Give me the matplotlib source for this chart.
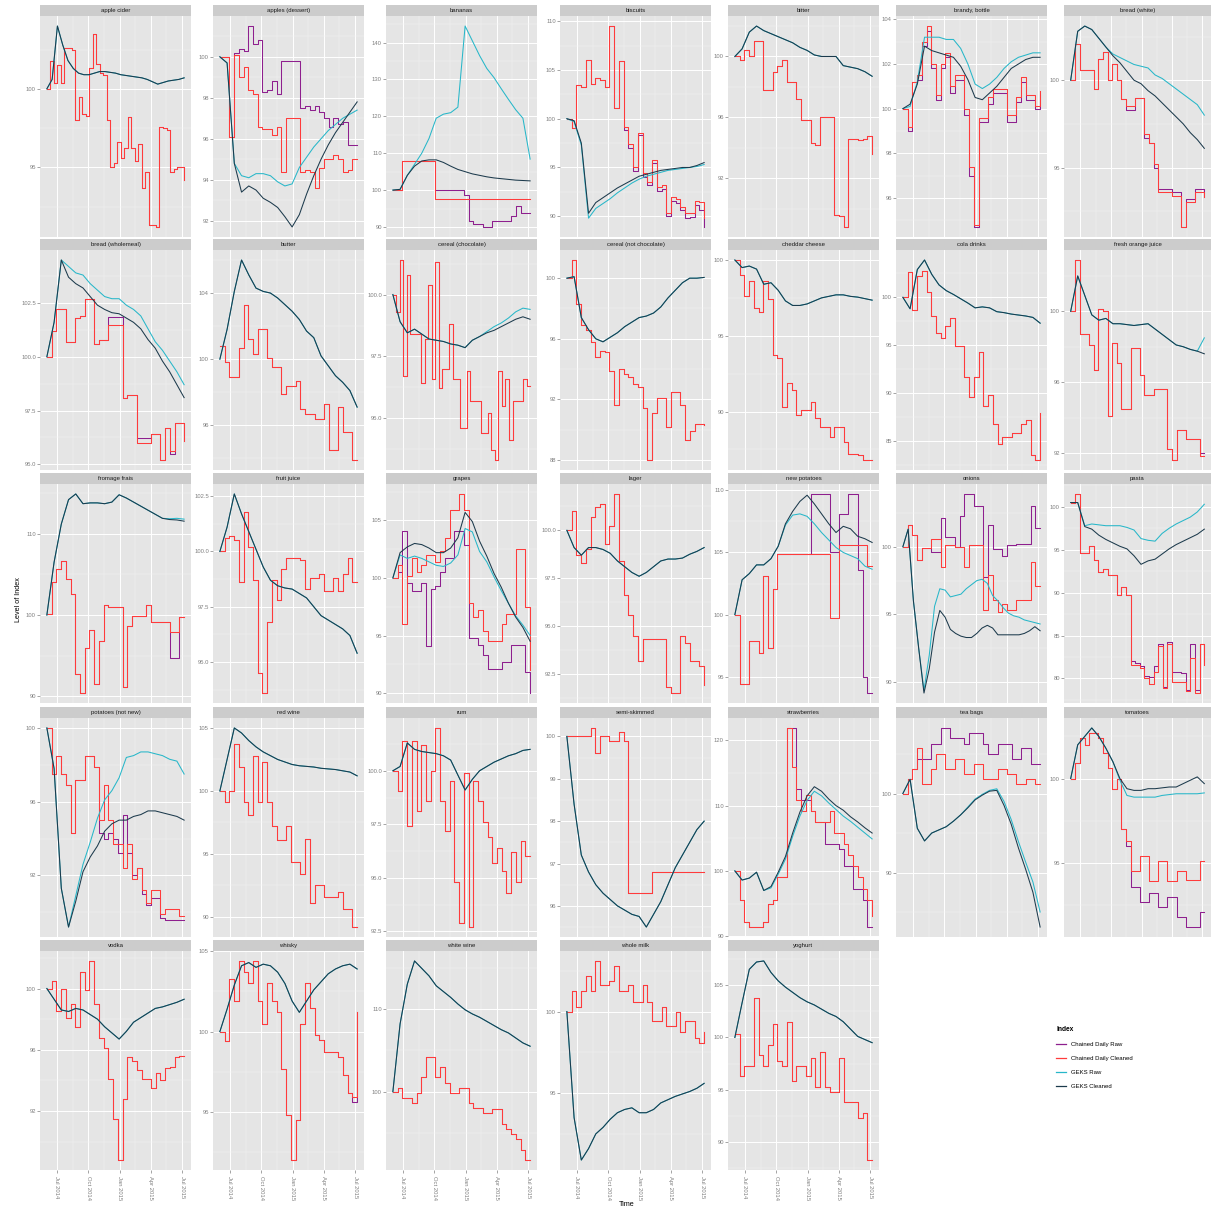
import numpy as np
import pandas as pd
import matplotlib
matplotlib.use("Agg")
import matplotlib.pyplot as plt
import matplotlib.dates as mdates
from matplotlib.ticker import MultipleLocator, FormatStrFormatter
from matplotlib.lines import Line2D

plt.rcParams["font.family"] = ["Liberation Sans", "DejaVu Sans"]

products = [
    "apple cider", "apples (dessert)", "bananas", "biscuits", "bitter", "brandy, bottle", "bread (white)",
    "bread (wholemeal)", "butter", "cereal (chocolate)", "cereal (not chocolate)", "cheddar cheese", "cola drinks", "fresh orange juice",
    "fromage frais", "fruit juice", "grapes", "lager", "new potatoes", "onions", "pasta",
    "potatoes (not new)", "red wine", "rum", "semi-skimmed", "strawberries", "tea bags", "tomatoes",
    "vodka", "whisky", "white wine", "whole milk", "yoghurt",
]
y_step = [5, 2, 10, 5, 4, 2, 5,
          2.5, 4, 2.5, 4, 5, 5, 4,
          10, 2.5, 5, 2.5, 5, 5, 5,
          4, 5, 2.5, 1, 10, 10, 5,
          4, 5, 10, 5, 5]

# chained daily index, cleaned data
chained_clean = {
    "apple cider": [100.0, 101.8, 100.4, 101.5, 100.4, 102.6, 102.6, 102.5, 98.0, 99.5, 98.4, 98.3, 101.3, 103.5, 101.6, 101.0, 100.9, 98.0, 95.0, 95.3,
                    96.6, 95.6, 96.2, 98.2, 96.2, 95.4, 96.5, 93.7, 94.7, 91.3, 91.3, 91.2, 97.6, 97.5, 97.4, 94.7, 94.9, 95.0, 95.0, 94.2],
    "apples (dessert)": [100.0, 100.0, 96.1, 100.1, 99.0, 99.5, 98.4, 98.2, 96.6, 96.5, 96.5, 96.2, 96.6, 94.4, 97.0, 97.0, 97.0, 94.4, 94.5, 94.4,
                         93.6, 94.6, 95.0, 95.0, 95.2, 95.0, 94.4, 94.5, 95.0, 95.0],
    "bananas": [100, 100, 108, 108, 108, 108, 108, 108, 108, 97.5, 97.5, 97.5, 97.5, 97.5, 97.5, 97.5, 97.5, 97.5, 97.5, 97.5,
                97.5, 97.5, 97.5, 97.5, 97.5, 97.5, 97.5, 97.5, 97.5, 97.5],
    "biscuits": [100.0, 99.0, 103.5, 103.2, 106.0, 103.6, 104.2, 104.0, 103.2, 109.5, 101.1, 105.9, 99.1, 97.4, 95.0, 98.5, 94.4, 93.5, 95.8, 93.0,
                 93.2, 90.3, 92.0, 91.8, 90.9, 90.3, 90.3, 91.6, 91.5, 89.8],
    "bitter": [100.0, 99.8, 100.4, 100.0, 101.0, 101.0, 97.8, 97.8, 99.0, 99.4, 99.8, 98.3, 98.3, 97.2, 95.8, 95.8, 94.3, 94.2, 96.0, 96.0,
               96.0, 89.6, 89.5, 88.8, 94.6, 94.6, 94.5, 94.6, 94.8, 93.6],
    "brandy, bottle": [100.0, 99.2, 101.2, 101.5, 103.0, 103.7, 102.0, 100.6, 102.0, 102.5, 101.0, 101.5, 101.5, 100.0, 97.4, 94.8, 99.6, 99.6, 100.5, 100.9,
                       100.9, 100.9, 99.7, 99.7, 100.5, 101.4, 100.6, 100.6, 100.1, 100.8],
    "bread (white)": [100.0, 102.1, 100.6, 100.6, 100.6, 99.5, 101.2, 101.6, 100.0, 100.9, 100.0, 98.9, 98.5, 98.5, 99.0, 99.0, 96.9, 96.4, 95.2, 93.6,
                      93.6, 93.6, 93.4, 93.4, 91.6, 93.0, 93.0, 93.6, 93.6, 93.3],
    "bread (wholemeal)": [100.0, 101.2, 102.2, 102.2, 100.7, 100.7, 101.8, 101.9, 102.7, 102.7, 100.6, 100.8, 100.8, 101.5, 101.5, 101.5, 98.1, 98.2, 98.2, 96.0,
                          96.0, 96.0, 96.4, 96.4, 95.2, 96.7, 95.6, 96.9, 96.9, 96.1],
    "butter": [100.8, 99.8, 98.9, 98.9, 100.7, 103.3, 101.2, 100.3, 101.8, 101.8, 100.1, 99.5, 99.5, 97.9, 98.4, 98.4, 98.7, 97.0, 96.7, 96.7,
               96.4, 96.4, 97.3, 94.5, 94.5, 97.1, 95.6, 95.6, 93.9, 93.9],
    "cereal (chocolate)": [100.0, 99.3, 101.4, 96.7, 100.8, 98.4, 98.4, 98.4, 96.4, 98.2, 100.4, 96.6, 101.3, 96.2, 97.0, 97.0, 98.8, 96.6, 96.6, 94.6,
                           94.6, 96.9, 95.7, 95.7, 95.7, 94.4, 94.4, 95.2, 93.7, 93.3, 96.9, 95.5, 96.6, 94.1, 95.7, 95.7, 95.7, 96.6, 96.3, 96.3],
    "cereal (not chocolate)": [100.0, 101.2, 98.3, 96.9, 96.6, 95.8, 94.8, 95.2, 95.1, 93.9, 91.6, 94.0, 93.7, 93.5, 93.0, 92.8, 91.4, 88.0, 91.1, 92.1,
                               92.1, 90.2, 92.5, 92.5, 91.6, 89.3, 89.9, 90.4, 90.4, 90.3],
    "cheddar cheese": [100.0, 99.0, 97.6, 98.6, 96.8, 96.6, 98.6, 97.4, 93.7, 93.5, 90.3, 91.9, 91.4, 89.8, 90.1, 90.1, 90.6, 89.6, 89.0, 89.0,
                       88.3, 89.0, 89.0, 88.0, 87.2, 87.2, 87.1, 86.8, 86.8, 86.8],
    "cola drinks": [100.0, 102.6, 98.7, 102.2, 102.7, 100.6, 98.0, 96.3, 95.7, 97.0, 97.8, 94.9, 94.9, 91.7, 89.6, 91.7, 94.3, 88.6, 89.8, 86.8,
                    84.7, 85.4, 85.4, 85.8, 85.8, 86.8, 87.2, 83.5, 83.0, 87.9],
    "fresh orange juice": [100.0, 102.9, 98.7, 98.7, 98.1, 96.7, 100.15, 100.0, 94.1, 98.2, 97.1, 94.5, 94.5, 97.9, 97.9, 96.4, 95.3, 95.3, 95.6, 95.6,
                           95.6, 92.2, 91.6, 93.3, 93.3, 92.8, 92.8, 92.8, 91.8, 91.8],
    "fromage frais": [100.1, 104.1, 105.7, 106.6, 104.4, 102.6, 92.8, 90.4, 95.9, 98.1, 91.5, 96.8, 101.2, 101.0, 101.0, 101.0, 91.2, 98.6, 99.9, 99.9,
                      99.9, 101.2, 99.2, 99.2, 99.2, 99.2, 97.9, 97.9, 99.7, 99.7],
    "fruit juice": [100.0, 100.6, 100.7, 100.5, 98.6, 101.8, 100.2, 98.7, 94.5, 93.6, 96.8, 98.7, 97.8, 99.2, 99.7, 99.7, 99.7, 99.6, 98.3, 98.8,
                    98.8, 99.0, 98.2, 98.2, 98.8, 98.2, 99.0, 99.7, 98.6, 98.6],
    "grapes": [100.0, 101.1, 96.0, 100.2, 101.7, 100.5, 101.1, 102.0, 102.0, 101.4, 102.3, 103.5, 105.9, 105.9, 107.3, 105.9, 97.8, 96.6, 97.2, 95.4,
               94.5, 94.5, 94.5, 96.0, 96.9, 96.9, 102.5, 102.5, 97.5, 92.0],
    "lager": [100.0, 101.0, 98.7, 98.3, 99.0, 100.7, 101.2, 101.4, 99.3, 100.2, 101.9, 98.4, 96.6, 95.6, 94.5, 93.2, 94.3, 94.3, 94.3, 94.3,
              94.3, 91.8, 91.5, 91.5, 94.5, 94.1, 93.2, 93.2, 92.9, 91.9],
    "new potatoes": [100.0, 94.4, 94.4, 97.9, 97.9, 96.9, 103.1, 97.3, 102.1, 104.85, 104.85, 104.85, 104.85, 104.85, 104.85, 104.85, 104.85, 104.85, 104.85, 104.85,
                     99.7, 99.7, 105.6, 105.6, 105.6, 105.6, 105.6, 105.6, 103.9, 103.9],
    "onions": [100.0, 101.6, 100.85, 99.0, 99.9, 99.9, 100.6, 100.6, 98.5, 100.1, 100.1, 99.95, 99.95, 98.5, 100.1, 100.1, 100.1, 95.3, 97.9, 96.1,
               95.2, 95.8, 95.3, 95.3, 96.1, 96.1, 96.1, 98.9, 97.1, 97.1],
    "pasta": [100.5, 101.5, 94.6, 94.6, 95.4, 93.8, 92.4, 92.8, 92.0, 92.0, 89.7, 90.7, 89.7, 81.6, 81.6, 81.2, 80.0, 79.3, 80.8, 83.8,
              78.9, 84.0, 79.6, 79.6, 79.6, 78.5, 82.4, 78.3, 84.0, 81.6],
    "potatoes (not new)": [100.0, 97.5, 98.5, 97.5, 96.9, 94.3, 97.2, 97.2, 98.5, 98.5, 97.9, 95.0, 96.9, 95.0, 93.7, 93.7, 92.4, 93.7, 91.8, 92.4,
                           91.2, 90.5, 91.2, 91.2, 89.9, 90.2, 90.2, 90.2, 89.8, 89.8],
    "red wine": [100.0, 99.1, 100.0, 103.7, 101.9, 99.1, 98.1, 102.8, 99.1, 102.3, 99.1, 97.2, 96.1, 96.1, 97.2, 94.4, 94.4, 93.4, 96.2, 91.1,
                 92.5, 92.5, 91.6, 91.6, 91.6, 92.0, 90.6, 90.6, 89.2, 89.2],
    "rum": [100.0, 99.05, 101.4, 97.4, 101.4, 98.1, 101.2, 98.6, 100.0, 102.0, 98.6, 97.2, 99.5, 94.8, 92.9, 99.9, 92.7, 99.5, 98.6, 97.6,
            96.9, 95.7, 96.4, 95.3, 94.3, 96.2, 94.8, 96.7, 96.0, 96.0],
    "semi-skimmed": [100.0, 100.0, 100.0, 100.0, 100.0, 100.2, 99.6, 100.0, 100.0, 99.9, 99.9, 100.1, 99.9, 96.3, 96.3, 96.3, 96.3, 96.3, 96.8, 96.8,
                     96.8, 96.8, 96.8, 96.8, 96.8, 96.8, 96.8, 96.8, 96.8, 96.8],
    "strawberries": [100.0, 95.6, 92.2, 91.4, 91.4, 91.4, 92.2, 95.0, 95.6, 99.0, 99.0, 121.9, 115.9, 110.8, 109.2, 111.7, 109.2, 107.5, 107.5, 107.5,
                     109.2, 105.8, 105.8, 104.1, 102.4, 100.7, 99.0, 97.3, 95.6, 93.1],
    "tea bags": [100.0, 101.8, 103.1, 105.7, 101.2, 101.2, 103.1, 105.0, 105.0, 103.1, 103.1, 104.4, 104.4, 102.5, 102.5, 103.7, 103.7, 101.8, 101.8, 101.8,
                 103.1, 103.1, 102.5, 102.5, 101.2, 101.2, 101.8, 101.8, 101.2, 101.2],
    "tomatoes": [100.0, 100.9, 102.4, 102.0, 102.7, 102.7, 102.4, 101.5, 100.6, 99.4, 100.0, 97.0, 96.3, 94.5, 94.5, 95.4, 95.4, 93.9, 93.9, 95.1,
                 95.1, 93.9, 93.9, 94.5, 94.5, 94.0, 94.0, 94.0, 95.1, 95.1],
    "vodka": [100.0, 100.5, 98.5, 100.0, 98.1, 99.0, 97.5, 101.1, 99.9, 101.8, 99.0, 96.8, 96.1, 94.1, 91.5, 88.8, 92.8, 95.5, 95.3, 94.7,
              94.1, 94.1, 93.5, 94.5, 94.0, 94.8, 94.9, 95.5, 95.6, 95.6],
    "whisky": [100.0, 99.4, 103.3, 101.9, 104.4, 103.7, 103.0, 104.4, 101.9, 100.5, 103.0, 101.9, 101.2, 97.7, 94.8, 92.0, 94.5, 100.5, 103.0, 101.5,
               99.8, 99.5, 98.7, 98.7, 98.7, 98.4, 97.3, 96.2, 95.9, 101.2],
    "white wine": [100.0, 100.5, 99.25, 99.25, 98.6, 99.9, 101.75, 104.25, 104.25, 101.75, 103.0, 101.1, 99.9, 99.9, 100.5, 100.5, 98.6, 98.0, 98.0, 97.4,
                   97.4, 97.9, 97.9, 96.1, 95.5, 94.9, 94.25, 93.0, 91.75, 91.75],
    "whole milk": [100.0, 101.25, 100.3, 101.25, 102.2, 101.25, 103.1, 101.6, 101.6, 101.9, 102.8, 101.25, 101.25, 101.6, 100.6, 100.6, 101.6, 100.6, 99.4, 99.4,
                   100.3, 99.1, 99.1, 100.0, 98.75, 99.4, 99.4, 98.4, 98.1, 98.75],
    "yoghurt": [100.3, 96.3, 97.3, 97.3, 103.8, 98.3, 97.3, 99.3, 101.3, 97.8, 97.3, 101.5, 95.8, 97.3, 97.3, 96.3, 98.0, 95.3, 98.6, 95.3,
                94.8, 94.8, 98.0, 93.8, 93.8, 93.8, 92.3, 92.8, 88.3, 88.3],
}

# chained daily index, raw data (only where it differs from the cleaned one)
chained_raw = {
    "apples (dessert)": [100.0, 100.0, 96.1, 100.2, 100.4, 100.3, 101.5, 100.6, 100.8, 98.3, 98.4, 98.8, 98.2, 99.8, 99.8, 99.8, 99.8, 97.5, 97.6, 97.4,
                         97.6, 97.3, 97.0, 96.6, 97.0, 96.7, 96.8, 95.7, 95.7, 95.7],
    "bananas": [100, 100, 108, 108, 108, 108, 108, 108, 108, 100, 100, 100, 100, 100, 100, 98.7, 91.5, 90.7, 90.7, 90.0,
                90.0, 91.5, 91.5, 91.5, 91.5, 93.0, 95.6, 93.9, 93.9, 93.9],
    "biscuits": [100.0, 99.0, 103.5, 103.2, 106.0, 103.6, 104.2, 104.0, 103.2, 109.5, 101.1, 105.9, 98.8, 97.0, 94.6, 98.3, 94.0, 93.2, 95.5, 92.6,
                 92.8, 90.0, 91.6, 91.4, 90.6, 89.8, 89.9, 91.2, 90.6, 88.9],
    "brandy, bottle": [100.0, 99.0, 101.2, 101.3, 102.8, 103.5, 101.8, 100.4, 101.8, 102.3, 100.7, 101.3, 101.3, 99.7, 97.0, 94.7, 99.4, 99.4, 100.2, 100.7,
                       100.7, 100.7, 99.4, 99.4, 100.3, 101.2, 100.4, 100.4, 100.0, 100.6],
    "bread (white)": [100.0, 102.1, 100.6, 100.6, 100.6, 99.5, 101.2, 101.6, 100.0, 100.9, 100.0, 98.9, 98.3, 98.3, 99.0, 99.0, 96.7, 96.4, 95.0, 93.8,
                      93.8, 93.8, 93.6, 93.6, 91.6, 93.2, 93.2, 93.8, 93.8, 93.3],
    "bread (wholemeal)": [100.0, 101.2, 102.2, 102.2, 100.7, 100.7, 101.8, 101.9, 102.7, 102.7, 100.6, 100.8, 100.8, 101.85, 101.85, 101.85, 98.1, 98.2, 98.2, 96.2,
                          96.2, 96.2, 96.4, 96.4, 95.2, 96.7, 95.5, 96.9, 96.9, 96.1],
    "fresh orange juice": [100.0, 102.9, 98.7, 98.7, 98.1, 96.7, 100.15, 100.0, 94.1, 98.2, 97.1, 94.5, 94.5, 97.9, 97.9, 96.4, 95.3, 95.3, 95.6, 95.6,
                           95.6, 92.2, 91.6, 93.3, 93.3, 92.8, 92.8, 92.8, 92.0, 92.0],
    "fromage frais": [100.1, 104.1, 105.7, 106.6, 104.4, 102.6, 92.8, 90.4, 95.9, 98.1, 91.5, 96.8, 101.2, 101.0, 101.0, 101.0, 91.2, 98.6, 99.9, 99.9,
                      99.9, 101.2, 99.2, 99.2, 99.2, 99.2, 94.7, 94.7, 99.7, 99.7],
    "grapes": [100.0, 100.5, 104.1, 99.6, 98.9, 98.9, 99.6, 94.1, 99.0, 99.3, 100.5, 101.7, 101.7, 104.1, 104.1, 102.9, 94.8, 94.8, 94.2, 93.3,
               92.1, 92.1, 92.1, 92.7, 92.7, 94.2, 94.2, 94.2, 91.8, 90.0],
    "new potatoes": [100.0, 94.4, 94.4, 97.9, 97.9, 96.9, 103.1, 97.3, 102.1, 104.85, 104.85, 104.85, 104.85, 104.85, 104.85, 104.85, 109.7, 109.7, 109.7, 109.7,
                     105.0, 105.0, 108.1, 108.1, 109.7, 109.7, 103.6, 95.0, 93.7, 93.7],
    "onions": [100.0, 101.6, 100.85, 99.0, 99.9, 99.9, 99.6, 99.6, 102.1, 100.7, 100.7, 100.0, 102.3, 103.9, 103.9, 103.0, 103.0, 97.8, 101.6, 99.8,
               99.8, 99.3, 100.1, 100.1, 100.2, 100.2, 100.2, 103.0, 101.4, 101.4],
    "pasta": [100.5, 101.5, 94.6, 94.6, 95.4, 93.8, 92.4, 92.8, 92.0, 92.0, 89.7, 90.7, 89.7, 82.0, 81.8, 81.5, 80.3, 80.2, 81.5, 84.0,
              79.0, 84.2, 80.8, 80.8, 80.6, 78.6, 84.0, 78.6, 84.0, 82.0],
    "potatoes (not new)": [100.0, 97.5, 98.5, 97.5, 96.9, 94.3, 97.2, 97.2, 98.5, 98.5, 97.9, 94.3, 94.0, 94.3, 94.0, 93.2, 95.3, 93.2, 92.0, 92.4,
                           91.0, 90.4, 90.8, 90.8, 89.7, 89.6, 89.6, 89.6, 89.6, 89.6],
    "strawberries": [100.0, 95.6, 92.2, 91.4, 91.4, 91.4, 92.2, 95.0, 95.6, 99.0, 99.0, 121.9, 121.9, 112.5, 110.8, 110.8, 109.2, 107.5, 107.5, 104.1,
                     104.1, 104.1, 103.3, 100.7, 100.7, 97.3, 97.3, 95.6, 91.4, 91.4],
    "tea bags": [100.0, 101.8, 103.1, 104.4, 104.4, 104.4, 106.3, 106.3, 108.3, 108.3, 107.0, 107.0, 107.0, 106.3, 107.6, 107.6, 107.6, 106.3, 105.0, 105.0,
                 106.3, 106.3, 106.3, 104.4, 104.4, 105.7, 105.7, 103.7, 103.7, 103.7],
    "tomatoes": [100.0, 100.9, 102.4, 102.0, 102.7, 102.7, 102.4, 101.5, 100.6, 99.4, 100.0, 97.0, 96.0, 93.6, 93.6, 92.7, 92.7, 93.2, 93.2, 92.4,
                 92.4, 93.0, 93.0, 91.8, 91.8, 91.2, 91.2, 91.2, 92.1, 92.1],
    "whisky": [100.0, 99.4, 103.3, 101.9, 104.4, 103.7, 103.0, 104.4, 101.9, 100.5, 103.0, 101.9, 101.2, 97.7, 94.8, 92.0, 94.5, 100.5, 103.0, 101.5,
               99.8, 99.5, 98.7, 98.7, 98.7, 98.4, 97.3, 96.2, 95.6, 101.2],
}

# GEKS index, cleaned data
geks_clean = {
    "apple cider": [100.0, 100.6, 104.0, 102.8, 101.8, 101.3, 101.0, 100.9, 100.9, 101.0, 101.1, 101.1, 101.05, 101.0, 100.9, 100.85, 100.8, 100.75, 100.7, 100.6,
                    100.45, 100.3, 100.4, 100.5, 100.55, 100.6, 100.7],
    "apples (dessert)": [100.0, 99.7, 94.8, 93.4, 93.7, 93.5, 93.1, 92.9, 92.65, 92.2, 91.7, 92.3, 93.3, 94.2, 95.0, 95.7, 96.3, 96.8, 97.3, 97.8],
    "bananas": [100.0, 100.2, 104.0, 106.5, 107.9, 108.2, 108.2, 107.5, 106.5, 105.6, 105.0, 104.4, 104.0, 103.6, 103.3, 103.1, 102.9, 102.7, 102.6, 102.5],
    "biscuits": [100.0, 99.8, 97.5, 90.3, 91.4, 91.9, 92.4, 92.9, 93.3, 93.7, 94.1, 94.3, 94.5, 94.7, 94.8, 94.9, 95.0, 95.0, 95.2, 95.5],
    "bitter": [100.0, 100.5, 101.6, 102.0, 101.7, 101.5, 101.3, 101.1, 100.9, 100.6, 100.4, 100.1, 100.0, 100.0, 100.0, 99.4, 99.3, 99.2, 99.0, 98.7],
    "brandy, bottle": [100.0, 100.2, 101.1, 102.8, 102.6, 102.5, 102.4, 102.3, 101.9, 101.3, 100.5, 100.4, 100.7, 101.0, 101.4, 101.8, 102.0, 102.2, 102.3, 102.3],
    "bread (white)": [100.0, 102.8, 103.1, 102.9, 102.4, 101.9, 101.4, 101.0, 100.5, 100.0, 99.8, 99.4, 99.1, 98.7, 98.3, 97.9, 97.5, 97.0, 96.6, 96.1],
    "bread (wholemeal)": [100.0, 101.6, 104.5, 103.7, 103.4, 103.2, 102.8, 102.4, 102.2, 102.05, 102.0, 101.8, 101.6, 101.3, 100.8, 100.4, 99.8, 99.3, 98.7, 98.1],
    "butter": [100.0, 101.8, 104.1, 106.0, 105.1, 104.3, 104.1, 104.0, 103.7, 103.3, 102.9, 102.4, 101.7, 101.3, 100.2, 99.6, 99.0, 98.6, 98.1, 97.1],
    "cereal (chocolate)": [100.0, 98.9, 98.45, 98.6, 98.4, 98.2, 98.15, 98.1, 98.0, 97.95, 97.85, 98.15, 98.3, 98.45, 98.55, 98.7, 98.85, 99.0, 99.1, 99.0],
    "cereal (not chocolate)": [100.0, 100.1, 97.4, 96.6, 96.0, 95.8, 96.1, 96.4, 96.8, 97.1, 97.4, 97.5, 97.7, 98.1, 98.7, 99.2, 99.7, 100.0, 100.0, 100.05],
    "cheddar cheese": [100.0, 99.5, 99.6, 99.4, 98.4, 98.5, 98.0, 97.3, 97.0, 97.0, 97.1, 97.3, 97.5, 97.6, 97.7, 97.7, 97.6, 97.55, 97.45, 97.35],
    "cola drinks": [100.0, 98.8, 102.9, 103.9, 102.4, 101.3, 100.7, 100.3, 99.85, 99.4, 98.9, 99.0, 98.9, 98.5, 98.4, 98.25, 98.15, 98.05, 97.9, 97.3],
    "fresh orange juice": [100.0, 102.0, 100.9, 99.8, 99.5, 99.6, 99.3, 99.3, 99.25, 99.2, 99.25, 99.3, 99.0, 98.7, 98.4, 98.1, 98.0, 97.85, 97.75, 97.6],
    "fromage frais": [100.0, 106.5, 111.2, 114.2, 114.9, 113.7, 113.8, 113.8, 113.7, 113.9, 114.8, 114.4, 113.9, 113.4, 112.9, 112.4, 111.9, 111.75, 111.7, 111.55],
    "fruit juice": [100.0, 101.1, 102.6, 101.7, 100.9, 100.1, 99.3, 98.7, 98.45, 98.35, 98.3, 98.1, 97.9, 97.5, 97.1, 96.9, 96.7, 96.5, 96.2, 95.4],
    "grapes": [100.0, 102.2, 102.7, 103.0, 102.9, 102.6, 102.2, 102.2, 102.6, 103.5, 105.7, 104.9, 103.2, 101.9, 100.4, 99.2, 97.8, 96.6, 95.7, 94.5],
    "lager": [100.0, 99.1, 98.7, 99.1, 99.1, 99.0, 98.8, 98.4, 98.1, 97.8, 97.6, 97.8, 98.1, 98.4, 98.5, 98.5, 98.55, 98.75, 98.9, 99.1],
    "new potatoes": [100.0, 102.8, 103.3, 104.0, 104.0, 104.5, 105.5, 107.3, 108.3, 109.1, 109.6, 108.9, 108.1, 107.3, 106.6, 107.1, 106.9, 106.3, 106.1, 105.8],
    "onions": [100.0, 101.3, 96.0, 92.5, 89.2, 91.0, 93.7, 95.3, 94.8, 93.9, 93.6, 93.4, 93.3, 93.3, 93.6, 94.0, 94.2, 94.0, 93.5, 93.5,
               93.5, 93.5, 93.5, 93.6, 93.8, 94.1, 93.8],
    "pasta": [100.5, 100.5, 97.7, 97.4, 96.7, 96.2, 95.8, 95.4, 95.1, 94.3, 93.3, 93.7, 93.9, 94.5, 95.1, 95.6, 96.0, 96.4, 96.8, 97.4],
    "potatoes (not new)": [100.0, 97.8, 91.3, 89.2, 90.6, 92.2, 93.0, 93.6, 94.4, 94.8, 95.0, 95.0, 95.2, 95.3, 95.5, 95.5, 95.4, 95.3, 95.2, 95.0],
    "red wine": [100.0, 102.5, 105.0, 104.6, 104.0, 103.5, 103.1, 102.8, 102.5, 102.3, 102.1, 102.0, 101.95, 101.9, 101.8, 101.75, 101.7, 101.6, 101.5, 101.2],
    "rum": [100.0, 100.2, 101.3, 101.0, 100.9, 100.85, 100.8, 100.7, 100.5, 99.8, 99.1, 99.6, 100.0, 100.2, 100.4, 100.55, 100.7, 100.8, 100.95, 101.0],
    "semi-skimmed": [100.0, 98.4, 97.2, 96.8, 96.5, 96.3, 96.15, 96.0, 95.9, 95.8, 95.75, 95.5, 95.8, 96.1, 96.5, 96.9, 97.2, 97.5, 97.8, 98.0],
    "strawberries": [100.0, 98.6, 98.9, 99.8, 97.0, 97.6, 99.8, 102.2, 105.8, 109.0, 111.5, 112.9, 112.2, 111.0, 110.0, 109.3, 108.3, 107.5, 106.6, 105.8],
    "tea bags": [100.0, 101.8, 95.6, 94.0, 95.0, 95.4, 95.8, 96.5, 97.3, 98.2, 99.2, 99.8, 100.3, 100.4, 98.5, 96.1, 93.1, 90.4, 87.5, 83.1],
    "tomatoes": [100.0, 102.0, 102.5, 103.0, 102.5, 101.8, 101.0, 100.0, 99.4, 99.3, 99.3, 99.4, 99.4, 99.45, 99.5, 99.5, 99.7, 99.9, 100.1, 99.7],
    "vodka": [100.0, 99.3, 98.6, 98.5, 98.7, 98.6, 98.3, 98.0, 97.5, 97.1, 96.7, 97.2, 97.8, 98.1, 98.4, 98.7, 98.8, 98.95, 99.1, 99.3],
    "whisky": [100.0, 101.4, 102.9, 104.1, 104.3, 104.0, 104.2, 104.1, 103.7, 103.0, 101.9, 101.2, 101.9, 102.6, 103.1, 103.6, 103.9, 104.1, 104.2, 103.9],
    "white wine": [100.0, 108.2, 113.0, 115.8, 114.9, 114.0, 112.8, 112.1, 111.4, 110.6, 109.9, 109.4, 109.0, 108.5, 108.0, 107.5, 107.1, 106.5, 105.9, 105.5],
    "whole milk": [100.0, 93.5, 90.9, 91.6, 92.5, 92.9, 93.4, 93.8, 94.0, 94.1, 93.8, 93.8, 94.0, 94.4, 94.6, 94.8, 94.95, 95.1, 95.3, 95.6],
    "yoghurt": [100.0, 103.3, 106.5, 107.2, 107.3, 106.2, 105.4, 104.8, 104.3, 103.8, 103.4, 103.1, 102.7, 102.3, 102.0, 101.5, 100.8, 100.1, 99.8, 99.5],
}

# GEKS index, raw data (only where it differs from the cleaned one)
geks_raw = {
    "apples (dessert)": [100.0, 99.7, 94.8, 94.2, 94.1, 94.3, 94.3, 94.2, 93.9, 93.7, 93.8, 94.6, 95.1, 95.6, 96.0, 96.4, 96.7, 97.0, 97.2, 97.4],
    "bananas": [100.0, 100.2, 104.0, 107.0, 110.0, 114.0, 119.5, 120.6, 121.0, 122.5, 144.5, 140.5, 136.5, 133.0, 130.5, 127.5, 124.6, 121.8, 119.5, 108.4],
    "biscuits": [100.0, 99.7, 97.3, 89.8, 90.8, 91.3, 91.8, 92.4, 92.9, 93.4, 93.8, 94.1, 94.3, 94.5, 94.7, 94.8, 94.9, 95.0, 95.1, 95.3],
    "brandy, bottle": [100.0, 100.1, 101.2, 103.2, 103.2, 103.2, 103.1, 103.1, 102.7, 102.0, 101.1, 100.9, 101.1, 101.4, 101.8, 102.1, 102.3, 102.4, 102.5, 102.5],
    "bread (white)": [100.0, 102.8, 103.1, 102.9, 102.4, 101.9, 101.5, 101.3, 101.1, 100.9, 100.8, 100.7, 100.3, 100.1, 99.8, 99.5, 99.2, 98.9, 98.6, 98.0],
    "bread (wholemeal)": [100.0, 101.6, 104.5, 104.2, 103.9, 103.8, 103.4, 103.1, 102.8, 102.7, 102.7, 102.4, 102.2, 101.9, 101.3, 100.7, 100.3, 99.8, 99.3, 98.7],
    "cereal (chocolate)": [100.0, 98.9, 98.45, 98.6, 98.4, 98.2, 98.15, 98.1, 98.0, 97.95, 97.85, 98.15, 98.3, 98.5, 98.7, 98.85, 99.05, 99.3, 99.45, 99.4],
    "fresh orange juice": [100.0, 102.0, 100.9, 99.8, 99.5, 99.6, 99.3, 99.3, 99.25, 99.2, 99.25, 99.3, 99.0, 98.7, 98.4, 98.1, 98.0, 97.85, 97.75, 98.5],
    "fromage frais": [100.0, 106.5, 111.2, 114.2, 114.9, 113.7, 113.8, 113.8, 113.7, 113.9, 114.8, 114.4, 113.9, 113.4, 112.9, 112.4, 111.9, 111.85, 111.9, 111.8],
    "grapes": [100.0, 102.0, 101.7, 101.9, 101.7, 101.4, 101.1, 101.0, 101.3, 102.0, 104.3, 104.0, 102.3, 101.4, 100.1, 98.9, 97.8, 96.7, 95.9, 95.0],
    "new potatoes": [100.0, 102.8, 103.3, 104.0, 104.0, 104.5, 105.5, 107.2, 108.0, 108.1, 107.9, 107.3, 106.6, 106.0, 105.4, 105.0, 104.75, 104.5, 103.9, 103.65],
    "onions": [100.0, 101.3, 96.0, 92.5, 89.4, 92.0, 95.6, 96.9, 96.8, 96.3, 96.4, 96.5, 96.9, 97.2, 97.5, 97.6, 97.3, 96.4, 96.0, 95.5,
               95.1, 94.9, 94.8, 94.6, 94.5, 94.4, 94.3],
    "pasta": [100.5, 100.5, 97.8, 98.0, 97.9, 97.8, 97.8, 97.8, 97.6, 97.3, 96.3, 96.1, 96.0, 96.9, 97.5, 98.0, 98.4, 98.8, 99.4, 100.3],
    "potatoes (not new)": [100.0, 97.8, 91.3, 89.2, 90.9, 92.6, 93.8, 95.1, 96.1, 96.6, 97.3, 98.4, 98.5, 98.7, 98.7, 98.6, 98.5, 98.3, 98.2, 97.5],
    "strawberries": [100.0, 98.6, 98.9, 99.8, 97.0, 97.4, 99.5, 101.8, 105.3, 108.4, 110.8, 112.2, 111.5, 110.4, 109.4, 108.4, 107.6, 106.7, 105.8, 104.9],
    "tea bags": [100.0, 101.8, 95.6, 94.0, 95.0, 95.4, 95.8, 96.5, 97.3, 98.3, 99.3, 99.9, 100.4, 100.6, 99.0, 96.7, 93.9, 91.3, 88.8, 85.0],
    "tomatoes": [100.0, 102.0, 102.5, 103.0, 102.5, 101.8, 101.0, 99.9, 99.0, 98.9, 98.9, 98.9, 98.9, 99.0, 99.05, 99.1, 99.1, 99.1, 99.1, 99.15],
}

series_names = ["Chained Daily Raw", "Chained Daily Cleaned", "GEKS Raw", "GEKS Cleaned"]
series_colors = ["#8E1F8E", "#FF3B3B", "#27B7C9", "#1C3A4C"]

first_day = pd.Timestamp("2014-06-02")
last_day = pd.Timestamp("2015-07-07")
x_lo = pd.Timestamp("2014-05-13")
x_hi = pd.Timestamp("2015-07-27")
x_breaks = pd.to_datetime(["2014-07-01", "2014-10-01", "2015-01-01", "2015-04-01", "2015-07-01"])
x_minor = pd.to_datetime(["2014-08-16", "2014-11-16", "2015-02-14", "2015-05-16"])

W, H = 1211, 1207
col_left = [40, 213, 386, 560, 728, 896, 1064]
col_width = [151, 151, 151, 151, 151, 151, 147]
strip_top = [5, 239, 473, 707, 940]
strip_h = 11
panel_bottom = [237, 470, 703, 937, 1170]

fig = plt.figure(figsize=(W / 100, H / 100), dpi=100)
fig.patch.set_facecolor("white")

tick_grey = "#808080"

for k, name in enumerate(products):
    r, c = divmod(k, 7)
    left = col_left[c] / W
    width = col_width[c] / W
    top_px = strip_top[r] + strip_h
    ax = fig.add_axes([left, 1 - panel_bottom[r] / H, width, (panel_bottom[r] - top_px) / H])
    ax.set_facecolor("#E5E5E5")

    s_ax = fig.add_axes([left, 1 - top_px / H, width, strip_h / H])
    s_ax.set_facecolor("#CCCCCC")
    s_ax.set_xticks([])
    s_ax.set_yticks([])
    for sp in s_ax.spines.values():
        sp.set_visible(False)
    s_ax.text(0.5, 0.5, name, ha="center", va="center", fontsize=4.3, color="#1A1A1A")

    data = [
        chained_raw.get(name, chained_clean[name]),
        chained_clean[name],
        geks_raw.get(name, geks_clean[name]),
        geks_clean[name],
    ]
    all_vals = []
    for i, vals in enumerate(data):
        dates = pd.date_range(first_day, last_day, periods=len(vals))
        style = "steps-post" if i < 2 else "default"
        ax.plot(dates, vals, color=series_colors[i], lw=0.75, drawstyle=style)
        all_vals += list(vals)

    lo, hi = min(all_vals), max(all_vals)
    pad = (hi - lo) * 0.05
    ax.set_ylim(lo - pad, hi + pad)
    ax.set_xlim(x_lo, x_hi)

    step = y_step[k]
    ax.yaxis.set_major_locator(MultipleLocator(step))
    ax.yaxis.set_minor_locator(MultipleLocator(step / 2))
    if step % 1:
        ax.yaxis.set_major_formatter(FormatStrFormatter("%.1f"))
    else:
        ax.yaxis.set_major_formatter(FormatStrFormatter("%d"))
    ax.set_xticks(x_breaks)
    ax.set_xticks(x_minor, minor=True)

    ax.grid(which="major", color="white", lw=0.7)
    ax.grid(which="minor", color="#F2F2F2", lw=0.35)
    ax.set_axisbelow(True)
    for sp in ax.spines.values():
        sp.set_visible(False)

    ax.tick_params(axis="y", which="major", length=2, width=0.5, color=tick_grey,
                   labelsize=4.2, labelcolor=tick_grey, pad=1)
    ax.tick_params(axis="y", which="minor", length=0)
    ax.tick_params(axis="x", which="minor", length=0)
    if r == 4:
        ax.xaxis.set_major_formatter(mdates.DateFormatter("%b %Y"))
        ax.tick_params(axis="x", which="major", length=2, width=0.5, color=tick_grey,
                       labelsize=4.2, labelcolor=tick_grey, pad=2, labelrotation=-90)
    else:
        ax.tick_params(axis="x", which="major", length=0, labelbottom=False)

fig.text(18 / W, 1 - 600 / H, "Level of Index", rotation=90, ha="center", va="center", fontsize=5.2)
fig.text(627 / W, 1 - 1204 / H, "Time", ha="center", va="center", fontsize=5.2)

handles = [Line2D([], [], color=col, lw=0.9) for col in series_colors]
leg = fig.legend(handles, series_names, title="Index", loc="upper left",
                 bbox_to_anchor=(1054 / W, 1 - 1024 / H), frameon=False,
                 fontsize=4.3, handlelength=1.6, labelspacing=1.45, borderaxespad=0,
                 title_fontproperties={"size": 4.8, "weight": "bold"})
leg._legend_box.align = "left"

fig.savefig("out.png", dpi=100)
